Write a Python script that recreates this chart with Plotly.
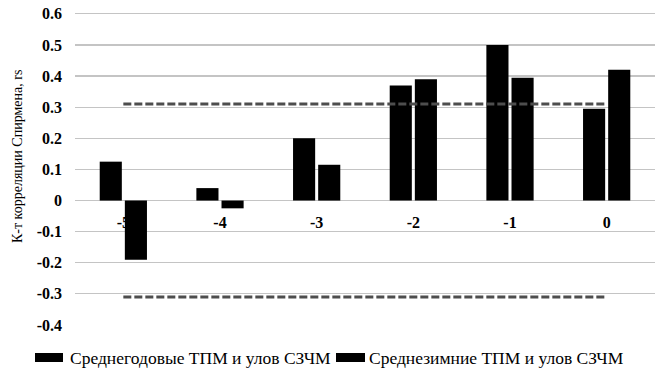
import plotly.graph_objects as go

categories = ["-5", "-4", "-3", "-2", "-1", "0"]
annual_values = [0.125, 0.04, 0.2, 0.37, 0.5, 0.295]
winter_values = [-0.19, -0.025, 0.115, 0.39, 0.395, 0.42]
critical_upper = [0.31] * len(categories)
critical_lower = [-0.31] * len(categories)
y_ticks = [0.6, 0.5, 0.4, 0.3, 0.2, 0.1, 0, -0.1, -0.2, -0.3, -0.4]
y_tick_labels = ["0.6", "0.5", "0.4", "0.3", "0.2", "0.1", "0", "-0.1", "-0.2", "-0.3", "-0.4"]

series_names = ["Среднегодовые ТПМ и улов СЗЧМ", "Среднезимние ТПМ и улов СЗЧМ"]
y_title = "К-т корреляции Спирмена, rs"

serif = "Liberation Serif"

fig = go.Figure()
fig.add_trace(go.Bar(x=categories, y=annual_values, name=series_names[0], showlegend=False,
                     marker=dict(color="black", line=dict(width=0))))
fig.add_trace(go.Bar(x=categories, y=winter_values, name=series_names[1], showlegend=False,
                     marker=dict(color="black", line=dict(width=0))))
for vals in (critical_upper, critical_lower):
    fig.add_trace(go.Scatter(x=categories, y=vals, mode="lines", showlegend=False,
                             line=dict(color="#4d4d4d", width=3, dash="8px,3px"),
                             hoverinfo="skip"))

# plot area: x 75..655 px, y 12..325 px (y range -0.4..0.606)
W, H = 580.0, 313.0
TOP, BOTTOM, LEFT = 12, 325, 75
def px_x(px):
    return (px - LEFT) / W
def px_y(py):
    return (BOTTOM - py) / H

legend_items = [
    (series_names[0], 35, 63, 68),
    (series_names[1], 336, 365, 367),
]
shapes = []
annotations = []
for name, sx0, sx1, tx in legend_items:
    shapes.append(dict(type="rect", xref="paper", yref="paper",
                       x0=px_x(sx0), x1=px_x(sx1), y0=px_y(362), y1=px_y(353),
                       fillcolor="black", line=dict(width=0)))
    annotations.append(dict(text=name, xref="paper", yref="paper",
                            x=px_x(tx), y=px_y(358), xanchor="left", yanchor="middle",
                            showarrow=False, font=dict(size=17.5, family=serif)))

annotations.append(dict(text=y_title, textangle=-90, xref="paper", yref="paper",
                        x=px_x(17), y=px_y(157), xanchor="center", yanchor="middle",
                        showarrow=False, font=dict(size=14, family=serif)))

y_min, y_max = -0.4, 0.606
fig.update_layout(
    width=660, height=372,
    margin=dict(l=LEFT, r=5, t=TOP, b=372 - BOTTOM, autoexpand=False),
    paper_bgcolor="white", plot_bgcolor="white",
    barmode="group", bargap=0.48, bargroupgap=0.12,
    font=dict(family=serif, color="black"),
    showlegend=False,
    xaxis=dict(type="category", anchor="free", position=(0 - y_min) / (y_max - y_min),
               showgrid=False, showline=False, zeroline=False, ticks="",
               ticklabelstandoff=10, layer="below traces",
               tickfont=dict(size=16, family=serif, weight="bold"),
               range=[-0.5, 5.5]),
    yaxis=dict(range=[y_min, y_max], tickvals=y_ticks, ticktext=y_tick_labels,
               showgrid=True, gridcolor="#c4c4c4", gridwidth=1.2,
               zeroline=False, showline=False, ticks="",
               ticklabelstandoff=12, ticklabeloverflow="allow",
               tickfont=dict(size=16, family=serif, weight="bold")),
    shapes=shapes,
    annotations=annotations,
)

fig.write_html("out.html",
               config={"displayModeBar": False, "staticPlot": True},
               post_script="document.body.style.margin='0';document.body.style.overflow='hidden';")
